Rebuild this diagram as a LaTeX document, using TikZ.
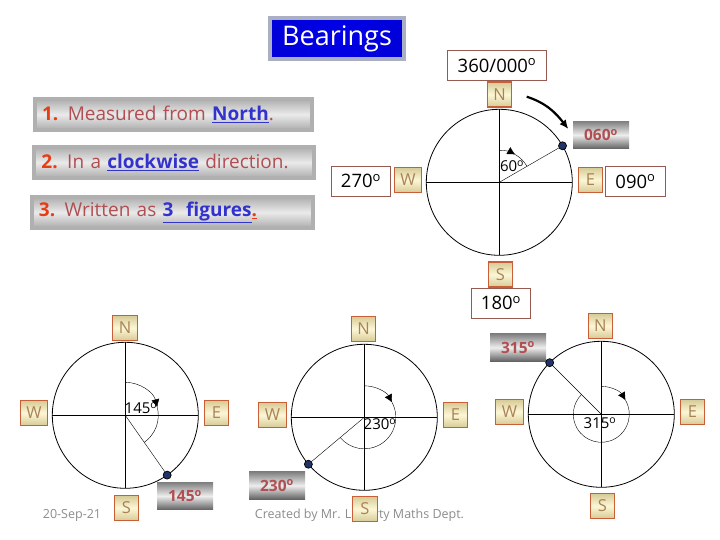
\documentclass[tikz,border=0pt]{standalone}
\usepackage{fontspec}
\setmainfont{Open Sans}
\usetikzlibrary{arrows.meta,positioning}

\definecolor{capcolor}{RGB}{200,95,55}
\definecolor{capfill}{RGB}{252,247,214}
\definecolor{capdark}{RGB}{214,202,150}
\definecolor{captext}{RGB}{170,130,85}
\definecolor{rimgrey}{RGB}{176,176,176}
\definecolor{redtext}{RGB}{176,78,82}
\definecolor{numred}{RGB}{232,60,20}
\definecolor{keyblue}{RGB}{50,50,205}
\definecolor{dotblue}{RGB}{32,52,105}
\definecolor{boxedge}{RGB}{150,90,80}
\definecolor{noteblack}{RGB}{140,140,140}

\newcommand{\degsign}{\textsuperscript{o}}

\tikzset{
	dial/.style={draw, circle, minimum size=146, inner sep=0, outer sep=0, line width=0.8},
	spoke/.style={line width=0.9},
	sweeptip/.style={-{Latex[length=8,width=8]}},
	capbox/.style={draw=capcolor, line width=1.1, top color=capdark, bottom color=capdark, middle color=capfill, text=captext, minimum width=24.4, minimum height=25, inner sep=0, font=\fontsize{16.5}{16.5}\selectfont},
	widecap/.style={capbox, minimum width=27.5},
	valuebox/.style={draw=boxedge, fill=white, line width=0.9, minimum width=59.5, minimum height=30, inner sep=0, font=\fontsize{18.5}{18.5}\selectfont},
	graytag/.style={top color=black!50, bottom color=black!62, middle color=black!7, text=redtext, minimum width=56, minimum height=27.5, inner sep=0, font=\fontsize{15.5}{15.5}\selectfont\bfseries},
	textbar/.style={draw=rimgrey, line width=4, top color=black!32, bottom color=black!32, middle color=black!8, text=redtext, minimum height=30.7, inner ysep=0, inner xsep=7, align=left, font=\fontsize{19}{19}\selectfont},
	sitedot/.style={draw=black, fill=dotblue, circle, minimum size=8, inner sep=0, line width=0.7},
	anglelabel/.style={inner sep=0, font=\fontsize{15}{15}\selectfont},
	notetext/.style={text=noteblack, inner sep=0, font=\fontsize{12.5}{12.5}\selectfont},
}

\begin{document}
\begin{tikzpicture}[x=1pt,y=-1pt]
	\useasboundingbox (0,0) rectangle (720,540);

	% Title
	\node[draw={rgb,255:red,170;green,175;blue,195}, line width=4, left color=blue!85!black, right color=blue!85!black, middle color=blue!90!black, text=white, minimum width=134, minimum height=41, inner sep=0, font=\fontsize{27}{27}\selectfont] (title) at (337,38.5) {\raisebox{-2.5pt}{Bearings}};

	% Rules
	\node[textbar, text width=263] (ruleone) at (173.5,114.3) {\textcolor{numred}{\textbf{1.}} Measured from \textcolor{keyblue}{\underline{\textbf{North}}}.};
	\node[textbar, text width=265.7] (ruletwo) at (174.3,162.3) {\textcolor{numred}{\textbf{2.}} In a \textcolor{keyblue}{\underline{\textbf{clockwise}}} direction.};
	\node[textbar, text width=266.7] (rulethree) at (172.3,212.3) {\textcolor{numred}{\textbf{3.}} Written as \textcolor{keyblue}{\underline{\textbf{3\ \ figures}}}\textcolor{numred}{\underline{\textbf{.}}}};

	% Bearing of 060
	\node[dial] (dialtop) at (499.3,182.3) {};
	\draw[spoke] (dialtop.north) -- (dialtop.south);
	\draw[spoke] (dialtop.west) -- (dialtop.east);
	\node[sitedot] (dottop) at (dialtop.30) {};
	\draw (dialtop.center) -- (dottop);
	\draw[sweeptip] (dialtop.center) ++(0,-32) arc[start angle=-90, end angle=-60, radius=32];
	\draw (dialtop.center) ++(-60:32) arc[start angle=-60, end angle=-30, radius=32];
	\node[anglelabel] (angletop) at (512,166) {60\degsign};
	\node[capbox] (ntop) at (499.5,94.5) {N};
	\node[widecap] (wtop) at (408,180) {W};
	\node[capbox] (etop) at (590.5,180) {E};
	\node[capbox] (stop) at (500.5,274.5) {S};
	\node[valuebox, minimum width=99] (northvalue) at (497,65.5) {360/000\degsign};
	\node[valuebox] (westvalue) at (361,181) {270\degsign};
	\node[valuebox] (eastvalue) at (635.5,181.5) {090\degsign};
	\node[valuebox] (southvalue) at (501,303) {180\degsign};
	\node[graytag] (tagtop) at (601,135) {060\degsign};
	\coordinate (sweepstart) at (526.7,96.7);
	\coordinate (sweepend) at (568.3,129);
	\draw[line width=2.2, -{Latex[length=9,width=8]}] (sweepstart) to[out=-18, in=128] (sweepend);

	% Bearing of 145
	\node[dial] (dialleft) at (125.3,415.3) {};
	\draw[spoke] (dialleft.north) -- (dialleft.south);
	\draw[spoke] (dialleft.west) -- (dialleft.east);
	\node[graytag] (tagleft) at (185,496) {145\degsign};
	\node[sitedot] (dotleft) at (dialleft.-55) {};
	\draw (dialleft.center) -- (dotleft);
	\draw[sweeptip] (dialleft.center) ++(0,-33) arc[start angle=-90, end angle=-14, radius=33];
	\draw (dialleft.center) ++(-14:33) arc[start angle=-14, end angle=55, radius=33];
	\node[anglelabel] (angleleft) at (141,408) {145\degsign};
	\node[capbox] (nleft) at (125,328) {N};
	\node[widecap] (wleft) at (34,413) {W};
	\node[capbox] (eleft) at (216.5,413) {E};
	\node[capbox] (sleft) at (126.5,508) {S};
	\node[notetext] (datenote) at (72,515) {20-Sep-21};

	% Bearing of 230
	\node[notetext] (credit) at (359.5,515) {Created by Mr. Lafferty Maths Dept.};
	\node[dial] (dialmid) at (364.3,417.3) {};
	\draw[spoke] (dialmid.north) -- (dialmid.south);
	\draw[spoke] (dialmid.west) -- (dialmid.east);
	\node[graytag] (tagmid) at (277,485.5) {230\degsign};
	\node[sitedot] (dotmid) at (dialmid.-140) {};
	\draw (dialmid.center) -- (dotmid);
	\draw[sweeptip] (dialmid.center) ++(0,-31.5) arc[start angle=-90, end angle=-28, radius=31.5];
	\draw (dialmid.center) ++(-28:31.5) arc[start angle=-28, end angle=140, radius=31.5];
	\node[anglelabel] (anglemid) at (380,424) {230\degsign};
	\node[capbox] (nmid) at (363.5,329) {N};
	\node[widecap] (wmid) at (272.5,415) {W};
	\node[capbox] (emid) at (455.5,415) {E};
	\node[capbox] (smid) at (365,509) {S};

	% Bearing of 315
	\node[dial] (dialright) at (601.3,414.3) {};
	\draw[spoke] (dialright.north) -- (dialright.south);
	\draw[spoke] (dialright.west) -- (dialright.east);
	\node[graytag] (tagright) at (518,347.5) {315\degsign};
	\node[sitedot] (dotright) at (dialright.135) {};
	\draw (dialright.center) -- (dotright);
	\draw[sweeptip] (dialright.center) ++(0,-28) arc[start angle=-90, end angle=-30, radius=28];
	\draw (dialright.center) ++(-30:28) arc[start angle=-30, end angle=225, radius=28];
	\node[anglelabel] (angleright) at (600,423) {315\degsign};
	\node[capbox] (nright) at (600.3,326) {N};
	\node[widecap] (wright) at (509.5,412) {W};
	\node[capbox] (eright) at (692.5,412) {E};
	\node[capbox] (sright) at (602.5,506) {S};
\end{tikzpicture}
\end{document}
